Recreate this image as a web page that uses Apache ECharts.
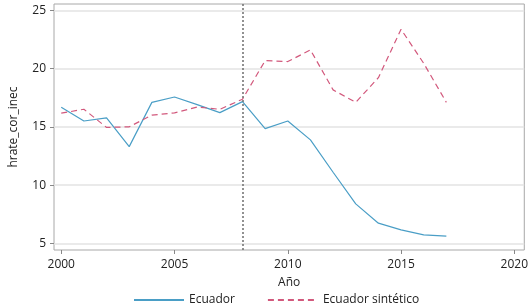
<!DOCTYPE html>
<html>
<head>
<meta charset="utf-8">
<script src="https://cdn.jsdelivr.net/npm/echarts@6/dist/echarts.min.js"></script>
<style>
  html, body { margin: 0; padding: 0; background: #fff; }
  #chart { width: 531px; height: 306px; }
</style>
</head>
<body>
<div id="chart"></div>
<script>
// datos
var years = [2000, 2001, 2002, 2003, 2004, 2005, 2006, 2007, 2008,
             2009, 2010, 2011, 2012, 2013, 2014, 2015, 2016, 2017];
var ecuador = [16.68, 15.5, 15.76, 13.3, 17.1, 17.56, 16.9, 16.22, 17.16,
               14.85, 15.5, 13.88, 11.1, 8.39, 6.73, 6.16, 5.73, 5.62];
var sintetico = [16.17, 16.51, 14.95, 15.0, 16.0, 16.2, 16.7, 16.5, 17.37,
                 20.68, 20.6, 21.6, 18.17, 17.1, 19.22, 23.37, 20.45, 17.1];
var xTicks = [2000, 2005, 2010, 2015, 2020];
var yTicks = [5, 10, 15, 20, 25];
var treatYear = 2008;

const FONT = 'Open Sans';
const TEXT_COLOR = '#222';

var pairs = (ys) => years.map((y, i) => [y, ys[i]]);

var chart = echarts.init(document.getElementById('chart'), null, { renderer: 'canvas' });

chart.setOption({
    animation: false,
    textStyle: { fontFamily: FONT },
    grid: {
        left: 52, right: 4, top: 4, bottom: 56,
        show: true,
        borderColor: '#a8a8a8',
        borderWidth: 1
    },
    legend: {
        top: 289,
        left: 128,
        itemWidth: 50,
        itemHeight: 10,
        itemGap: 32,
        itemStyle: { opacity: 0 },
        textStyle: { fontFamily: FONT, fontSize: 12, color: TEXT_COLOR },
        data: ['Ecuador', 'Ecuador sintético']
    },
    xAxis: {
        type: 'value',
        min: 1999.68,
        max: 2020.44,
        name: 'Año',
        nameLocation: 'middle',
        nameGap: 27,
        nameTextStyle: { fontFamily: FONT, fontSize: 12, color: TEXT_COLOR },
        axisLine: { show: false },
        axisTick: { show: true, length: 4, customValues: xTicks, lineStyle: { color: '#888' } },
        axisLabel: { customValues: xTicks, fontSize: 12, color: TEXT_COLOR, margin: 9,
                     fontFamily: FONT, formatter: (v) => String(v) },
        splitLine: { show: false }
    },
    yAxis: {
        type: 'value',
        min: 4.43,
        max: 25.54,
        name: 'hrate_cor_inec',
        nameLocation: 'middle',
        nameGap: 34,
        nameTextStyle: { fontFamily: FONT, fontSize: 12, color: TEXT_COLOR },
        axisLine: { show: false },
        axisTick: { show: true, length: 4, customValues: yTicks, lineStyle: { color: '#888' } },
        axisLabel: { customValues: yTicks, fontSize: 12, color: TEXT_COLOR, margin: 8,
                     fontFamily: FONT },
        splitLine: { show: true, lineStyle: { color: '#e3e3e3', width: 1.5 } }
    },
    series: [{
        name: 'Ecuador',
        type: 'line',
        symbol: 'none',
        data: pairs(ecuador),
        lineStyle: { color: '#4a9ec6', width: 1.2 },
        itemStyle: { color: '#4a9ec6' },
        markLine: {
            silent: true,
            symbol: 'none',
            label: { show: false },
            lineStyle: { color: '#777', type: [2, 2], width: 1.6 },
            data: [{ xAxis: treatYear }]
        }
    }, {
        name: 'Ecuador sintético',
        type: 'line',
        symbol: 'none',
        data: pairs(sintetico),
        lineStyle: { color: '#d2587c', width: 1.2, type: [6, 4] },
        itemStyle: { color: '#d2587c' }
    }]
});
</script>
</body>
</html>
